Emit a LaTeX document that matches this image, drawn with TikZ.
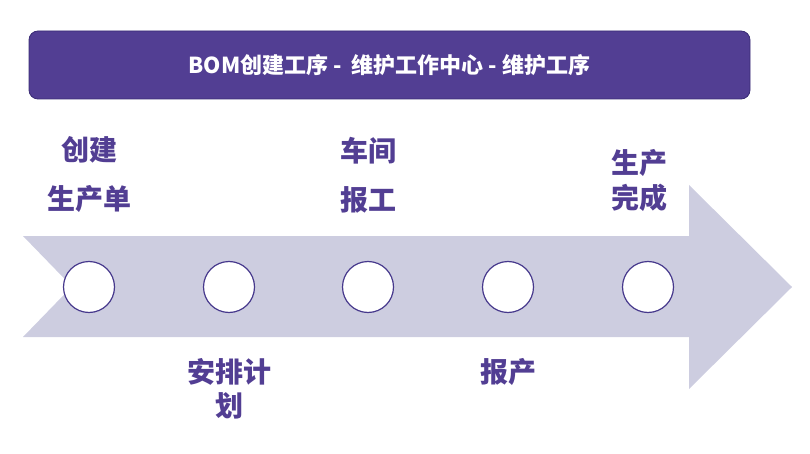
\documentclass[tikz,border=0pt]{standalone}
\usepackage{fontspec}
\setmainfont{Noto Sans CJK SC}
\definecolor{hdr}{HTML}{523E93}
\definecolor{hdrline}{HTML}{3A2C75}
\definecolor{arrowfill}{HTML}{CDCDE0}
\definecolor{txt}{HTML}{523E93}
\definecolor{ring}{HTML}{46388C}
\begin{document}
\begin{tikzpicture}[x=1pt,y=-1pt,
  dot/.style={circle,draw=ring,line width=1.2pt,fill=white,minimum size=51pt,inner sep=0pt},
  lbl/.style={text=txt,font=\bfseries\fontsize{28}{49}\selectfont,align=center,inner sep=0pt},
  header/.style={draw=hdrline,line width=0.8pt,fill=hdr,rounded corners=9pt,minimum width=721pt,minimum height=68pt,text=white,font=\bfseries\fontsize{22}{24}\selectfont}]
\useasboundingbox (0,0) rectangle (810,454);
\node[header] (title) at (389.5,65) {BOM创建工序 -\ \ 维护工作中心 - 维护工序};
\fill[arrowfill] (23,236) -- (689,236) -- (689,185) -- (792,287) -- (689,389) -- (689,337) -- (23,337) -- (72,286.5) -- cycle;
\node[dot] (c1) at (89,287) {};
\node[dot] (c2) at (229,287) {};
\node[dot] (c3) at (368,287) {};
\node[dot] (c4) at (508,287) {};
\node[dot] (c5) at (648,287) {};
\node[lbl] (l1) at (89,175) {创建\\生产单};
\node[lbl] (l3) at (368,175) {车间\\报工};
\node[lbl,font=\bfseries\fontsize{28}{35}\selectfont] (l5) at (639,180) {生产\\完成};
\node[lbl,font=\bfseries\fontsize{28}{34}\selectfont] (l2) at (229,388.5) {安排计\\划};
\node[lbl] (l4) at (508,371.5) {报产};
\end{tikzpicture}
\end{document}
